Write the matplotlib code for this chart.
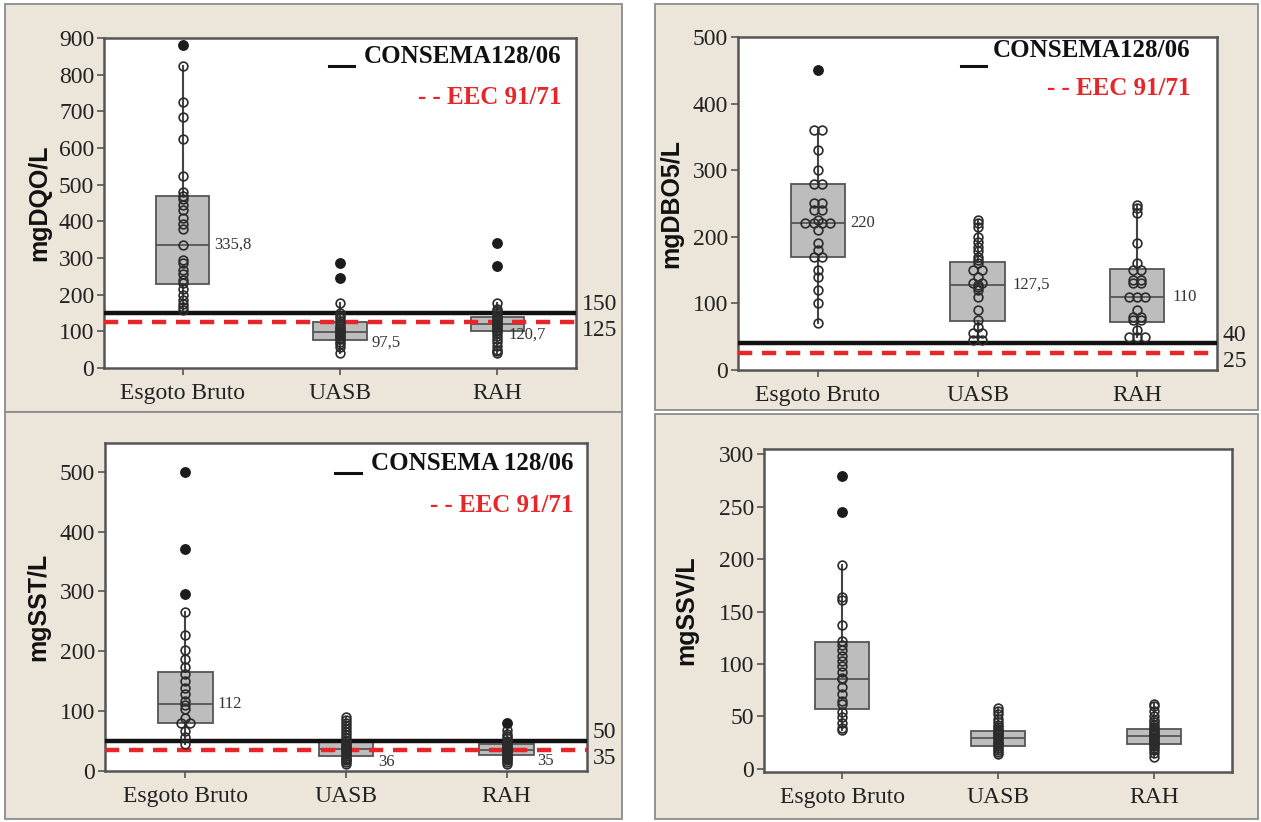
import matplotlib
matplotlib.use("Agg")
import matplotlib.pyplot as plt
from matplotlib.patches import Rectangle
from matplotlib.lines import Line2D
from collections import Counter

plt.rcParams["font.family"] = ["Liberation Serif", "DejaVu Serif"]

W, H = 1261, 822
BEIGE = "#ebe5da"
EDGE = "#555555"
RED = "#e8262a"

groups = ["Esgoto Bruto", "UASB", "RAH"]

# --- DQO (mg/L) ---
dqo_pts = [
    [823, 725, 684, 624, 523, 480, 470, 460, 445, 430, 410, 392, 380, 335, 295, 285,
     268, 255, 240, 232, 215, 200, 185, 175, 165, 158],
    [177, 150, 142, 135, 128, 122, 115, 110, 105, 100, 97, 95, 90, 86, 82, 78, 72, 65, 58, 41],
    [177, 162, 155, 150, 145, 140, 136, 132, 128, 124, 120, 116, 112, 108, 104, 100, 95,
     88, 80, 70, 60, 50, 45, 40],
]
dqo_out = [[880], [287, 245], [340, 278]]
dqo_q1 = [228, 76, 101]
dqo_med = [335.8, 97.5, 120.7]
dqo_q3 = [470, 126, 139]
dqo_limits = [150, 125]

# --- DBO5 (mg/L) ---
dbo_pts = [
    [360, 360, 330, 300, 280, 280, 250, 250, 240, 240, 225, 220, 220, 220, 220, 210,
     190, 180, 170, 170, 150, 140, 120, 100, 70],
    [225, 220, 215, 200, 192, 185, 178, 170, 165, 160, 150, 150, 140, 130, 130, 127,
     125, 120, 110, 90, 75, 65, 55, 55, 45, 45],
    [248, 243, 235, 190, 160, 150, 150, 135, 135, 130, 130, 110, 110, 110, 90, 80, 80,
     75, 75, 60, 50, 50, 50],
]
dbo_out = [[450], [], []]
dbo_q1 = [169, 74, 72]
dbo_med = [220, 127.5, 110]
dbo_q3 = [280, 162, 151]
dbo_limits = [40, 25]

# --- SST (mg/L) ---
sst_pts = [
    [266, 227, 202, 187, 173, 162, 150, 139, 128, 117, 111, 103, 89, 81, 81, 67, 56, 45],
    [90, 85, 80, 75, 70, 65, 60, 55, 50, 47, 45, 42, 40, 38, 36, 35, 33, 30, 28, 25,
     22, 20, 18, 15, 12],
    [68, 62, 58, 55, 50, 47, 45, 42, 40, 38, 36, 35, 34, 33, 32, 30, 28, 26, 24, 22,
     20, 18, 15, 12],
]
sst_out = [[500, 371, 296], [], [80]]
sst_q1 = [80, 25, 27]
sst_med = [112, 36, 35]
sst_q3 = [165, 52, 45]
sst_limits = [50, 35]

# --- SSV (mg/L) ---
ssv_pts = [
    [194, 164, 161, 137, 122, 118, 113, 108, 103, 98, 92, 87, 86, 78, 71, 65, 62, 54,
     49, 44, 39, 37],
    [58, 55, 52, 48, 45, 42, 40, 38, 36, 35, 33, 32, 30, 29, 28, 26, 25, 24, 22, 20,
     18, 16, 14],
    [62, 60, 55, 50, 47, 45, 42, 40, 38, 36, 35, 33, 32, 30, 29, 28, 27, 26, 25, 24,
     22, 20, 18, 15, 11],
]
ssv_out = [[279, 245], [], []]
ssv_q1 = [57, 22, 24]
ssv_med = [86, 29, 31]
ssv_q3 = [121, 36, 38]


def px_axes(fig, l, t, r, b):
    return fig.add_axes([l / W, 1 - b / H, (r - l) / W, (b - t) / H])


def panel_bg(fig, x0, y0, x1, y1):
    fig.add_artist(Rectangle((x0 / W, 1 - y1 / H), (x1 - x0) / W, (y1 - y0) / H,
                             transform=fig.transFigure, facecolor=BEIGE,
                             edgecolor="#8c8c8c", lw=1.3, zorder=-5))


def draw_panel(ax, pts, out, q1, med, q3, ylim, yticks, ylabel, limits=None,
               legend=None, med_dx=None, med_dy=None, show_med=True, ylab_x=-0.12):
    pos = [1, 2, 3]
    stats = [dict(med=m, q1=a, q3=b, whislo=min(p), whishi=max(p), fliers=[])
             for p, a, m, b in zip(pts, q1, med, q3)]
    ax.bxp(stats, positions=pos, widths=0.34, patch_artist=True, showcaps=False,
           manage_ticks=False,
           boxprops=dict(facecolor="#bdbdbd", edgecolor=EDGE, lw=1.3),
           whiskerprops=dict(color="#444444", lw=1.5),
           medianprops=dict(color=EDGE, lw=1.3))

    # individual values; equal values are put side by side
    for x, p in zip(pos, pts):
        cnt = Counter(p)
        for v, n in cnt.items():
            for k in range(n):
                dx = (k - (n - 1) / 2) * 0.052
                ax.plot(x + dx, v, "o", ms=6.3, mfc="none", mec="#2b2b2b", mew=1.2, zorder=4)
    for x, o in zip(pos, out):
        for v in o:
            ax.plot(x, v, "o", ms=6.8, mfc="#1c1c1c", mec="#1c1c1c", zorder=4)

    if show_med:
        for i, (x, m) in enumerate(zip(pos, med)):
            txt = f"{m:g}".replace(".", ",")
            ax.annotate(txt, (x + med_dx[i], m), xytext=(0, -med_dy[i]),
                        textcoords="offset points", ha="left", va="center",
                        fontsize=12, color="#333333", zorder=5)

    if limits:
        ax.axhline(limits[0], color="#111111", lw=3.2, zorder=3)
        ax.axhline(limits[1], color=RED, lw=3.2, ls=(0, (3.2, 2.2)), zorder=3)
        tr = ax.get_yaxis_transform()
        ax.annotate(str(limits[0]), (1.012, limits[0]), xycoords=tr, xytext=(0, 6),
                    textcoords="offset points", va="center", ha="left",
                    fontsize=17, color="#222222", annotation_clip=False)
        ax.annotate(str(limits[1]), (1.012, limits[1]), xycoords=tr, xytext=(0, -6),
                    textcoords="offset points", va="center", ha="left",
                    fontsize=17, color="#222222", annotation_clip=False)

    if legend:
        rx, y1, y2, name, lx0, lx1, ly = legend
        ax.text(rx, y1, name, transform=ax.transAxes, ha="right", va="center",
                fontsize=18, fontweight="bold", color="#111111")
        ax.add_line(Line2D([lx0, lx1], [ly, ly], transform=ax.transAxes,
                           color="#111111", lw=2.2))
        ax.text(rx, y2, "- - EEC 91/71", transform=ax.transAxes, ha="right",
                va="center", fontsize=18, fontweight="bold", color=RED)

    ax.set_xlim(0.5, 3.5)
    ax.set_ylim(*ylim)
    ax.set_yticks(yticks)
    ax.set_xticks(pos)
    ax.set_xticklabels(groups, fontsize=17, color="#222222")
    ax.tick_params(axis="y", labelsize=17, length=5, width=1.2, color=EDGE,
                   pad=2, labelcolor="#222222")
    ax.tick_params(axis="x", length=5, width=1.2, color=EDGE, pad=6)
    for s in ax.spines.values():
        s.set_color(EDGE)
        s.set_linewidth(1.8)
    ax.set_ylabel(ylabel, fontsize=18, fontweight="bold", family="Liberation Sans",
                  color="#111111")
    ax.yaxis.set_label_coords(ylab_x, 0.5)


fig = plt.figure(figsize=(W / 100, H / 100), dpi=100, facecolor="white")

panel_bg(fig, 5, 4, 622, 412)
panel_bg(fig, 5, 412, 622, 819)
panel_bg(fig, 655, 4, 1258, 410)
panel_bg(fig, 655, 414, 1258, 819)

ax1 = px_axes(fig, 104, 38, 576, 368)
draw_panel(ax1, dqo_pts, dqo_out, dqo_q1, dqo_med, dqo_q3, (0, 900),
           range(0, 901, 100), "mgDQO/L", dqo_limits,
           legend=(0.970, 0.945, 0.82, "CONSEMA128/06", 0.476, 0.53, 0.915),
           med_dx=[0.2, 0.2, 0.07], med_dy=[0, 7.5, 8], ylab_x=-0.112)

ax2 = px_axes(fig, 738, 37, 1217, 370)
draw_panel(ax2, dbo_pts, dbo_out, dbo_q1, dbo_med, dbo_q3, (0, 500),
           range(0, 501, 100), "mgDBO5/L", dbo_limits,
           legend=(0.944, 0.958, 0.845, "CONSEMA128/06", 0.466, 0.518, 0.914),
           med_dx=[0.2, 0.22, 0.22], med_dy=[0, 0, 0], ylab_x=-0.115)

ax3 = px_axes(fig, 105, 443, 587, 771)
draw_panel(ax3, sst_pts, sst_out, sst_q1, sst_med, sst_q3, (0, 548),
           range(0, 501, 100), "mgSST/L", sst_limits,
           legend=(0.971, 0.939, 0.808, "CONSEMA 128/06", 0.477, 0.531, 0.91),
           med_dx=[0.2, 0.2, 0.19], med_dy=[0, 9, 8], ylab_x=-0.114)

ax4 = px_axes(fig, 764, 449, 1232, 772)
draw_panel(ax4, ssv_pts, ssv_out, ssv_q1, ssv_med, ssv_q3, (-3, 305),
           range(0, 301, 50), "mgSSV/L", show_med=False, ylab_x=-0.14)

fig.savefig("out.png", dpi=100, facecolor="white")
